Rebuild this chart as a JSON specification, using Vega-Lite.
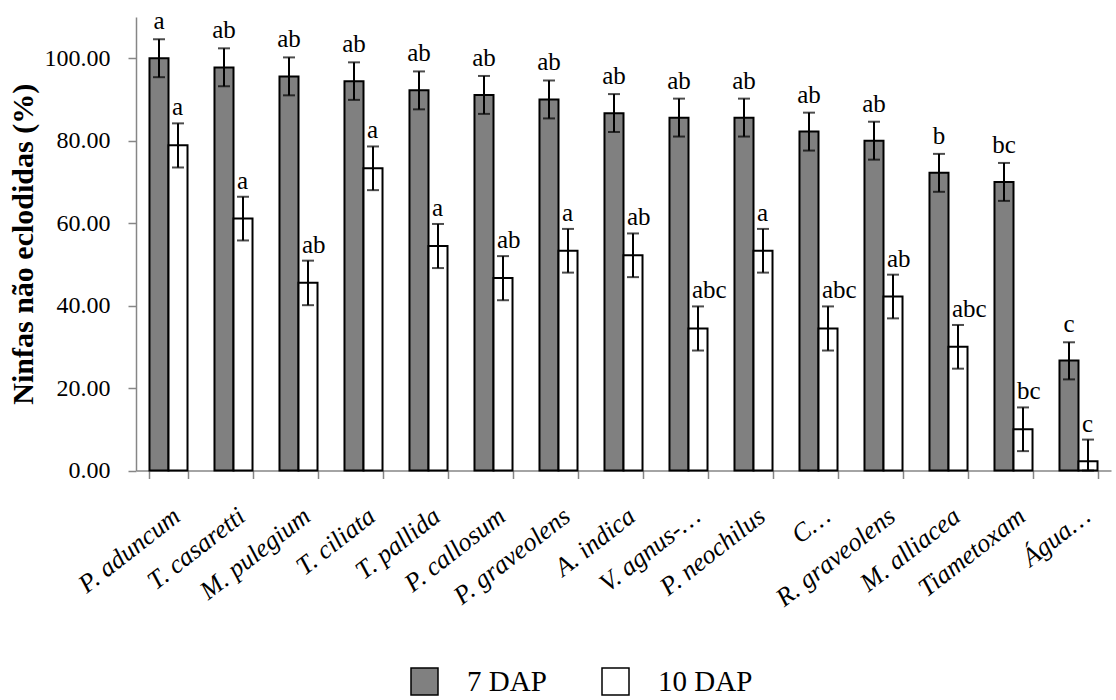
{
  "$schema": "https://vega.github.io/schema/vega-lite/v6.json",
  "autosize": {"type": "none"},
  "padding": {"left": 136, "top": 17, "right": 5, "bottom": 229.5},
  "width": 975,
  "height": 453.5,
  "background": "white",
  "config": {
    "view": {"stroke": null},
    "font": "Liberation Serif",
    "axis": {"domainColor": "#868686", "domainWidth": 1.5, "tickColor": "#868686", "tickWidth": 1.5, "tickSize": 8, "grid": false, "labelColor": "black", "labelFont": "Liberation Serif"}
  },
  "data": {"values": [
    {"cat": "P. aduncum", "period": "7 DAP", "mean": 100.0, "lo": 95.4, "hi": 104.6, "letter": "a"},
    {"cat": "T. casaretti", "period": "7 DAP", "mean": 97.78, "lo": 93.2, "hi": 102.4, "letter": "ab"},
    {"cat": "M. pulegium", "period": "7 DAP", "mean": 95.56, "lo": 91.0, "hi": 100.2, "letter": "ab"},
    {"cat": "T. ciliata", "period": "7 DAP", "mean": 94.44, "lo": 89.9, "hi": 99.0, "letter": "ab"},
    {"cat": "T. pallida", "period": "7 DAP", "mean": 92.22, "lo": 87.6, "hi": 96.8, "letter": "ab"},
    {"cat": "P. callosum", "period": "7 DAP", "mean": 91.11, "lo": 86.5, "hi": 95.7, "letter": "ab"},
    {"cat": "P. graveolens", "period": "7 DAP", "mean": 90.0, "lo": 85.4, "hi": 94.6, "letter": "ab"},
    {"cat": "A. indica", "period": "7 DAP", "mean": 86.67, "lo": 82.1, "hi": 91.3, "letter": "ab"},
    {"cat": "V. agnus-…", "period": "7 DAP", "mean": 85.56, "lo": 81.0, "hi": 90.2, "letter": "ab"},
    {"cat": "P. neochilus", "period": "7 DAP", "mean": 85.56, "lo": 81.0, "hi": 90.2, "letter": "ab"},
    {"cat": "C…", "period": "7 DAP", "mean": 82.22, "lo": 77.6, "hi": 86.8, "letter": "ab"},
    {"cat": "R. graveolens", "period": "7 DAP", "mean": 80.0, "lo": 75.4, "hi": 84.6, "letter": "ab"},
    {"cat": "M. alliacea", "period": "7 DAP", "mean": 72.22, "lo": 67.6, "hi": 76.8, "letter": "b"},
    {"cat": "Tiametoxam", "period": "7 DAP", "mean": 70.0, "lo": 65.4, "hi": 74.6, "letter": "bc"},
    {"cat": "Água…", "period": "7 DAP", "mean": 26.67, "lo": 22.1, "hi": 31.1, "letter": "c"},
    {"cat": "P. aduncum", "period": "10 DAP", "mean": 78.89, "lo": 73.5, "hi": 84.2, "letter": "a"},
    {"cat": "T. casaretti", "period": "10 DAP", "mean": 61.11, "lo": 55.8, "hi": 66.4, "letter": "a"},
    {"cat": "M. pulegium", "period": "10 DAP", "mean": 45.56, "lo": 40.1, "hi": 50.9, "letter": "ab"},
    {"cat": "T. ciliata", "period": "10 DAP", "mean": 73.33, "lo": 68.0, "hi": 78.6, "letter": "a"},
    {"cat": "T. pallida", "period": "10 DAP", "mean": 54.44, "lo": 49.1, "hi": 59.8, "letter": "a"},
    {"cat": "P. callosum", "period": "10 DAP", "mean": 46.67, "lo": 41.3, "hi": 52.0, "letter": "ab"},
    {"cat": "P. graveolens", "period": "10 DAP", "mean": 53.33, "lo": 48.0, "hi": 58.6, "letter": "a"},
    {"cat": "A. indica", "period": "10 DAP", "mean": 52.22, "lo": 46.9, "hi": 57.5, "letter": "ab"},
    {"cat": "V. agnus-…", "period": "10 DAP", "mean": 34.44, "lo": 29.1, "hi": 39.8, "letter": "abc"},
    {"cat": "P. neochilus", "period": "10 DAP", "mean": 53.33, "lo": 48.0, "hi": 58.6, "letter": "a"},
    {"cat": "C…", "period": "10 DAP", "mean": 34.44, "lo": 29.1, "hi": 39.8, "letter": "abc"},
    {"cat": "R. graveolens", "period": "10 DAP", "mean": 42.22, "lo": 36.9, "hi": 47.5, "letter": "ab"},
    {"cat": "M. alliacea", "period": "10 DAP", "mean": 30.0, "lo": 24.7, "hi": 35.3, "letter": "abc"},
    {"cat": "Tiametoxam", "period": "10 DAP", "mean": 10.0, "lo": 4.7, "hi": 15.3, "letter": "bc"},
    {"cat": "Água…", "period": "10 DAP", "mean": 2.22, "lo": 0.0, "hi": 7.5, "letter": "c"}
  ]},
  "encoding": {
    "x": {"field": "cat", "type": "nominal", "sort": null,
      "scale": {"paddingInner": 0.415, "paddingOuter": 0.2075},
      "axis": {"title": null, "tickBand": "extent", "labelAngle": -38, "labelAlign": "right", "labelBaseline": "top", "labelPadding": 24, "labelFontSize": 26, "labelFontStyle": "italic", "labelLimit": 300}},
    "xOffset": {"field": "period", "type": "nominal", "sort": ["7 DAP", "10 DAP"], "scale": {"domain": ["7 DAP", "10 DAP"], "paddingInner": 0, "paddingOuter": 0}}
  },
  "layer": [
    {
      "mark": {"type": "bar", "stroke": "black", "strokeWidth": 2},
      "encoding": {
        "y": {"field": "mean", "type": "quantitative",
          "scale": {"domain": [0, 110], "nice": false},
          "axis": {"title": "Ninfas não eclodidas (%)", "values": [0, 20, 40, 60, 80, 100], "format": ".2f", "labelFontSize": 24, "labelPadding": 18, "titleFont": "Liberation Serif", "titleFontWeight": "bold", "titleFontSize": 30, "titlePadding": 6, "titleColor": "black"}},
        "fill": {"field": "period", "type": "nominal",
          "scale": {"domain": ["7 DAP", "10 DAP"], "range": ["#808080", "#ffffff"]},
          "legend": {"title": null, "orient": "none", "legendX": 274, "legendY": 650, "direction": "horizontal", "symbolType": "square", "symbolSize": 729, "symbolStrokeColor": "black", "symbolStrokeWidth": 1.5, "labelFont": "Liberation Serif", "labelFontSize": 29, "labelColor": "black", "labelOffset": 28, "columnPadding": 52}}
      }
    },
    {
      "mark": {"type": "rule", "color": "black", "strokeWidth": 2},
      "encoding": {
        "y": {"field": "lo", "type": "quantitative"},
        "y2": {"field": "hi"}
      }
    },
    {
      "mark": {"type": "tick", "color": "black", "thickness": 2, "size": 12, "orient": "horizontal"},
      "encoding": {"y": {"field": "hi", "type": "quantitative"}}
    },
    {
      "mark": {"type": "tick", "color": "black", "thickness": 2, "size": 12, "orient": "horizontal"},
      "encoding": {"y": {"field": "lo", "type": "quantitative"}}
    },
    {
      "transform": [{"filter": "datum.period === '7 DAP'"}],
      "mark": {"type": "text", "font": "Liberation Serif", "fontSize": 25, "color": "black", "align": "center", "baseline": "alphabetic", "dy": -10},
      "encoding": {"y": {"field": "hi", "type": "quantitative"}, "text": {"field": "letter"}}
    },
    {
      "transform": [{"filter": "datum.period === '10 DAP'"}],
      "mark": {"type": "text", "font": "Liberation Serif", "fontSize": 25, "color": "black", "align": "left", "baseline": "alphabetic", "dx": -6, "dy": -8},
      "encoding": {"y": {"field": "hi", "type": "quantitative"}, "text": {"field": "letter"}}
    }
  ]
}
